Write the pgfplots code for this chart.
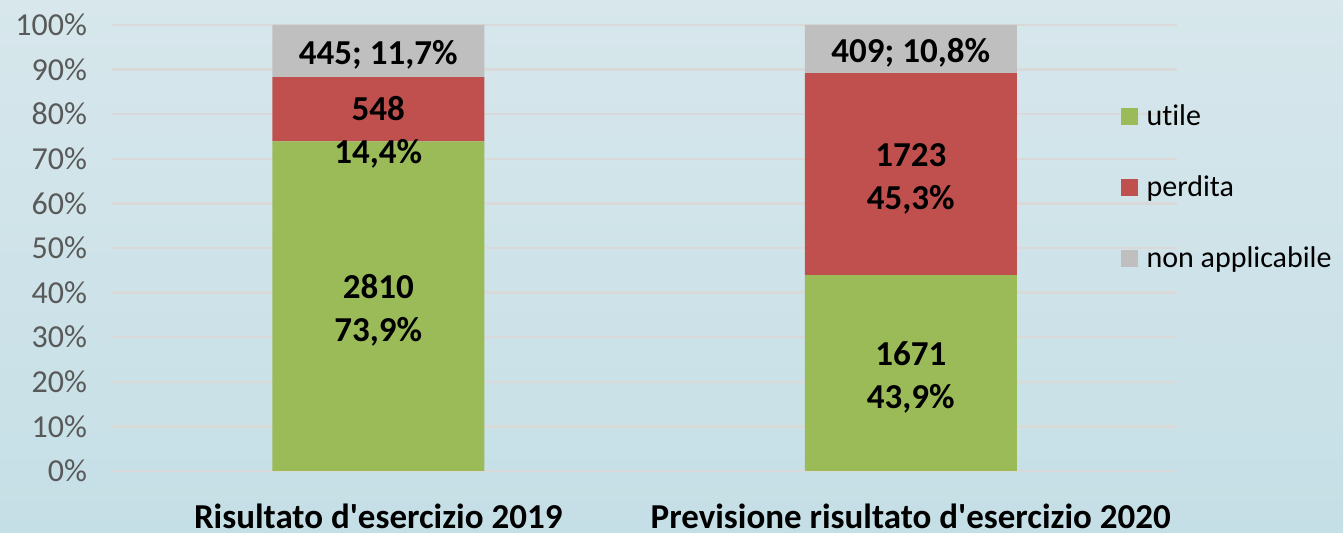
\documentclass[border=0pt]{standalone}
\usepackage{fontspec}
\setmainfont{Carlito}[Ligatures={NoCommon}]
\usepackage{pgfplots}
\pgfplotsset{compat=1.18}
\usepackage{pgfplotstable}

\definecolor{cgreen}{RGB}{155,187,89}
\definecolor{cred}{RGB}{192,80,77}
\definecolor{cgray}{RGB}{191,191,191}
\definecolor{bgtop}{RGB}{215,231,236}
\definecolor{bgbot}{RGB}{197,223,230}
\definecolor{gridc}{RGB}{217,217,217}
\definecolor{tickc}{RGB}{89,89,89}

\pgfplotstableread{
x p n dy
0 73.9 2810 -2
1 43.9 1671 -2
}\utile
\pgfplotstableread{
x p n dy
0 14.4 548 -11.5
1 45.3 1723 -2.5
}\perdita
\pgfplotstableread{
x p n dy
0 11.7 445 -2
1 10.8 409 -2
}\na

\begin{document}
\begin{tikzpicture}
\shade[top color=bgtop,bottom color=bgbot] (-56pt,-31pt) rectangle (615.5pt,235.5pt);
\begin{axis}[
  at={(0,0)}, anchor=south west,
  width=532.5pt, height=223pt, scale only axis,
  ybar stacked, bar width=106pt,
  xmin=-0.5, xmax=1.5, ymin=0, ymax=100,
  xtick={0,1},
  xticklabels={Risultato d\textquotesingle esercizio 2019, Previsione risultato d\textquotesingle esercizio 2020},
  ytick={0,10,...,100},
  yticklabel={\pgfmathprintnumber{\tick}\%},
  /pgf/number format/assume math mode=true,
  axis line style={draw=none},
  major tick length=0pt,
  ymajorgrids, grid style={gridc, line width=1.2pt},
  yticklabel style={font=\fontsize{16}{18}\selectfont, text=tickc, xshift=-9pt},
  xticklabel style={font=\fontsize{17.5}{21}\selectfont\bfseries, text=black, anchor=north, yshift=-13pt},
  legend style={at={(0.941,0.84)}, anchor=north west, draw=none, fill=none,
     font=\fontsize{15}{18}\selectfont, row sep=19.5pt, legend cell align=left},
  legend image code/.code={\fill[#1] (0pt,-4.25pt) rectangle (8.5pt,4.25pt); \path (11pt,0pt);},
  point meta=explicit,
  visualization depends on={\thisrow{p} \as \segh},
  visualization depends on={\thisrow{dy} \as \dy},
  nodes near coords align={anchor=center},
  nodes near coords={\pgfmathprintnumber[fixed,precision=0,1000 sep={}]{\pgfplotspointmeta}\\\pgfmathprintnumber[fixed,fixed zerofill,precision=1,use comma]{\segh}\%},
  every node near coord/.append style={anchor=center, align=center, text=black,
     font=\fontsize{17.5}{21.5}\selectfont\bfseries, yshift=\dy pt},
]
\addplot[fill=cgreen, draw=none] table[x=x, y=p, meta=n]{\utile};
\addlegendentry{utile}
\addplot[fill=cred, draw=none] table[x=x, y=p, meta=n]{\perdita};
\addlegendentry{perdita}
\addplot[fill=cgray, draw=none,
  nodes near coords={\pgfmathprintnumber[fixed,precision=0,1000 sep={}]{\pgfplotspointmeta}; \pgfmathprintnumber[fixed,fixed zerofill,precision=1,use comma]{\segh}\%}]
  table[x=x, y=p, meta=n]{\na};
\addlegendentry{non applicabile}
\end{axis}
\end{tikzpicture}
\end{document}
